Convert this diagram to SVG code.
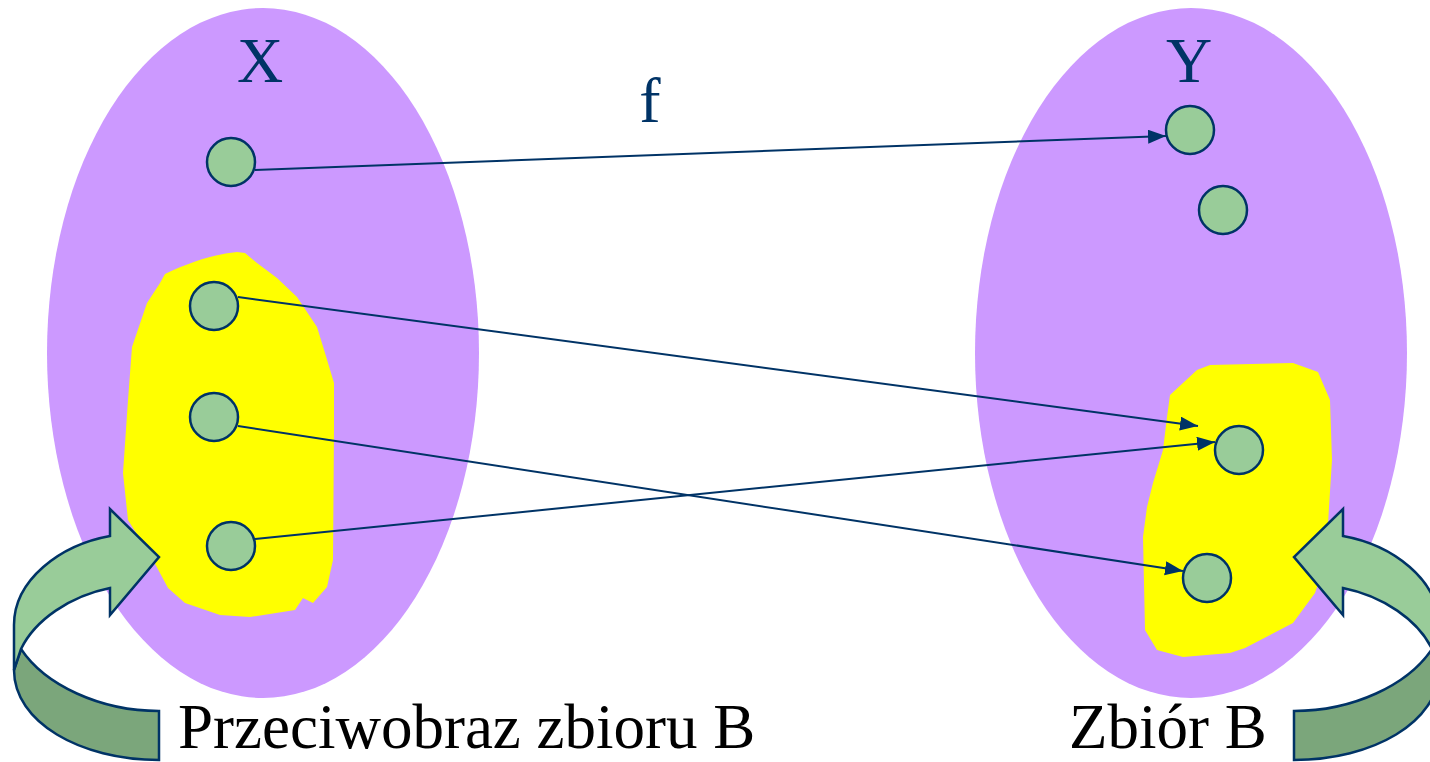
<svg xmlns="http://www.w3.org/2000/svg" width="1430" height="762" viewBox="0 0 1430 762">
<defs>
<style>
.set{fill:#CC99FF;stroke:none}
.sub{fill:#FFFF00;stroke:none}
.pt{fill:#99CC99;stroke:#003366;stroke-width:2.5}
.edge{stroke:#003366;stroke-width:2;fill:none;marker-end:url(#ah)}
.lbl{font-family:"Liberation Serif","Times New Roman",serif;font-size:64px;fill:#003366}
.cap{font-family:"Liberation Serif","Times New Roman",serif;font-size:63px;fill:#000}
.light{fill:#99CC99;stroke:#003366;stroke-width:2.5;stroke-linejoin:miter}
.dark{fill:#7BA67B;stroke:#003366;stroke-width:2.5}
</style>
<marker id="ah" markerUnits="userSpaceOnUse" markerWidth="19" markerHeight="15" refX="18" refY="7" orient="auto" viewBox="0 0 19 15">
<path d="M0,0 L18,7 L0,14 Z" fill="#003366"/>
</marker>
<g id="curvedArrow">
<path class="dark" d="M14,670 L21,649 C45,685 100,711 159,711 L159,760 C80,760 14,722 14,670 Z"/>
<path class="light" d="M110,536 L110,509 L159,557 L110,615 L110,588 C70,596 35,620 21,649 L14,670 L14,625 C14,580 60,545 110,536 Z"/>
</g>
</defs>
<g id="setX">
<ellipse class="set" cx="263" cy="353" rx="216" ry="345"/>
<path id="preimageB" class="sub" d="M165,274 C190,262 215,254 237,252 L245,253 L257,263 L277,278 L297,297 L317,327 L325,353 L334,383 L334,427 L333,560 L327,587 L313,603 L303,598 L295,610 L250,617 L220,615 L185,603 L168,588 L153,560 L128,520 L123,473 L128,400 L132,347 L147,303 L160,283 Z"/>
<text class="lbl" x="260" y="82" text-anchor="middle">X</text>
</g>
<g id="setY">
<ellipse class="set" cx="1191" cy="353" rx="216" ry="345"/>
<path id="setB" class="sub" d="M1170,395 L1197,370 L1210,365 L1293,363 L1318,372 L1330,400 L1332,460 L1329,507 L1326,560 L1315,593 L1293,623 L1245,648 L1230,653 L1183,657 L1157,650 L1145,630 L1143,537 L1147,507 L1153,483 L1163,450 L1167,417 Z"/>
<text class="lbl" x="1189" y="82" text-anchor="middle">Y</text>
</g>
<g id="leftCurvedArrow"><use href="#curvedArrow"/></g>
<g id="rightCurvedArrow"><use href="#curvedArrow" transform="translate(1453,0) scale(-1,1)"/></g>
<g id="x1"><circle class="pt" cx="231" cy="162" r="24"/></g>
<g id="x2"><circle class="pt" cx="214" cy="306" r="24"/></g>
<g id="x3"><circle class="pt" cx="214" cy="417" r="24"/></g>
<g id="x4"><circle class="pt" cx="231" cy="546" r="24"/></g>
<g id="y1"><circle class="pt" cx="1190" cy="130" r="24"/></g>
<g id="y2"><circle class="pt" cx="1223" cy="210" r="24"/></g>
<g id="y3"><circle class="pt" cx="1239" cy="450" r="24"/></g>
<g id="y4"><circle class="pt" cx="1207" cy="578" r="24"/></g>
<g id="connectors">
<line class="edge" x1="255" y1="170" x2="1166" y2="136"/>
<line class="edge" x1="238" y1="297" x2="1198" y2="426"/>
<line class="edge" x1="238" y1="426" x2="1183" y2="571"/>
<line class="edge" x1="255" y1="539" x2="1215" y2="442"/>
</g>
<text id="fLabel" class="lbl" x="650" y="122" text-anchor="middle">f</text>
<text id="preimageLabel" class="cap" x="178" y="748">Przeciwobraz zbioru B</text>
<text id="setBLabel" class="cap" x="1069" y="748">Zbiór B</text>
</svg>
